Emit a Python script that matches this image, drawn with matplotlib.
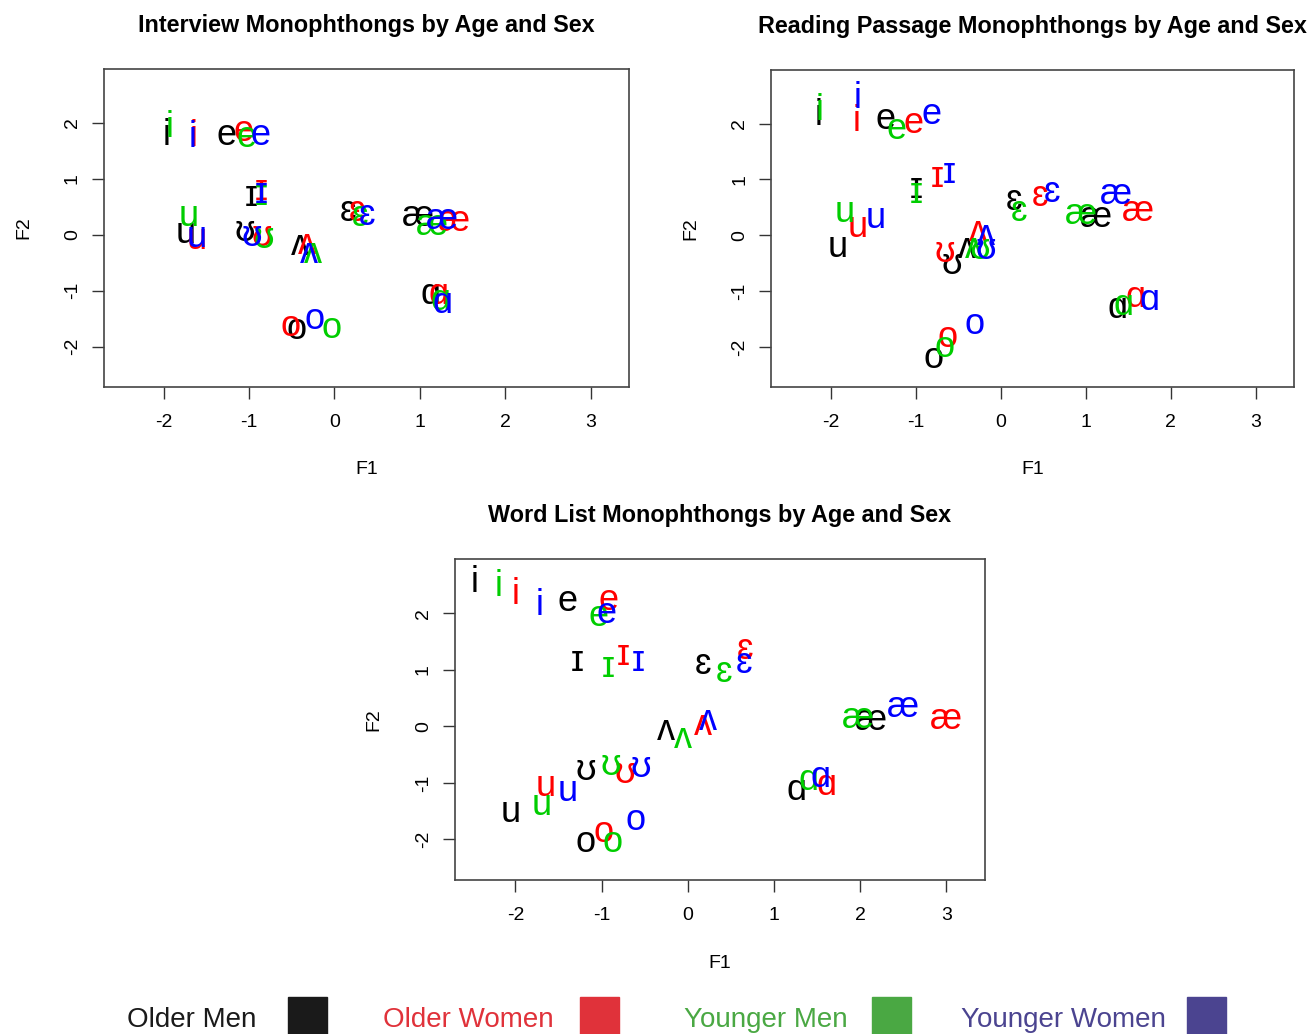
import matplotlib
matplotlib.use('Agg')
import matplotlib.pyplot as plt
from matplotlib.patches import Rectangle

plt.rcParams['font.family'] = ['Liberation Sans', 'DejaVu Sans']
plt.rcParams['axes.unicode_minus'] = False

vowels = ['i', 'ɪ', 'e', 'ɛ', 'æ', 'ɑ', 'ʌ', 'o', 'ʊ', 'u']
groups = ['Older Men', 'Older Women', 'Younger Men', 'Younger Women']
group_colors = ['black', '#FF0000', '#00CD00', '#0000FF']
legend_colors = ['#1a1a1a', '#e0323a', '#4aa843', '#4b4490']

# rows: Older Men, Older Women, Younger Men, Younger Women; columns follow vowels
interview_f1 = [
    [-1.97, -0.97, -1.26, 0.16, 0.98, 1.12, -0.40, -0.44, -1.05, -1.74],
    [-1.65, -0.86, -1.07, 0.26, 1.40, 1.22, -0.32, -0.52, -0.85, -1.61],
    [-1.93, -0.86, -1.03, 0.30, 1.14, 1.24, -0.25, -0.03, -0.83, -1.71],
    [-1.66, -0.86, -0.87, 0.38, 1.26, 1.26, -0.30, -0.23, -0.97, -1.61],
]
interview_f2 = [
    [1.78, 0.68, 1.77, 0.42, 0.33, -1.07, -0.19, -1.70, 0.06, 0.03],
    [1.76, 0.79, 1.85, 0.42, 0.23, -1.07, -0.18, -1.64, -0.03, -0.08],
    [1.92, 0.71, 1.74, 0.32, 0.17, -1.18, -0.33, -1.67, -0.06, 0.33],
    [1.74, 0.74, 1.77, 0.34, 0.27, -1.22, -0.34, -1.52, -0.03, -0.04],
]
reading_f1 = [
    [-2.14, -0.99, -1.36, 0.16, 1.12, 1.38, -0.40, -0.79, -0.58, -1.92],
    [-1.69, -0.75, -1.03, 0.46, 1.61, 1.59, -0.27, -0.63, -0.66, -1.68],
    [-2.13, -0.99, -1.22, 0.22, 0.95, 1.44, -0.32, -0.66, -0.25, -1.84],
    [-1.68, -0.60, -0.81, 0.60, 1.36, 1.75, -0.17, -0.31, -0.17, -1.47],
]
reading_f2 = [
    [2.15, 0.84, 2.07, 0.63, 0.32, -1.32, -0.23, -2.21, -0.53, -0.22],
    [2.03, 1.03, 2.01, 0.69, 0.43, -1.11, 0.07, -1.83, -0.31, 0.14],
    [2.24, 0.75, 1.89, 0.42, 0.37, -1.26, -0.23, -2.01, -0.25, 0.41],
    [2.45, 1.11, 2.16, 0.76, 0.73, -1.17, -0.01, -1.60, -0.26, 0.30],
]
wordlist_f1 = [
    [-2.47, -1.28, -1.39, 0.18, 2.13, 1.26, -0.25, -1.19, -1.18, -2.05],
    [-2.00, -0.75, -0.92, 0.66, 3.00, 1.61, 0.18, -0.98, -0.73, -1.65],
    [-2.20, -0.92, -1.04, 0.42, 1.98, 1.40, -0.06, -0.87, -0.89, -1.70],
    [-1.72, -0.58, -0.94, 0.65, 2.50, 1.54, 0.24, -0.60, -0.54, -1.39],
]
wordlist_f2 = [
    [2.54, 1.14, 2.21, 1.10, 0.11, -1.13, -0.07, -2.06, -0.78, -1.52],
    [2.34, 1.26, 2.23, 1.36, 0.12, -1.04, 0.01, -1.87, -0.84, -1.07],
    [2.48, 1.05, 1.95, 0.96, 0.14, -0.96, -0.22, -2.05, -0.69, -1.40],
    [2.13, 1.14, 1.99, 1.11, 0.34, -0.91, 0.11, -1.66, -0.72, -1.16],
]

fig = plt.figure(figsize=(13.08, 10.34), dpi=100)


def vowel_panel(rect, title, f1, f2):
    ax = fig.add_axes(rect)
    for g in range(len(groups)):
        for v, x, y in zip(vowels, f1[g], f2[g]):
            ax.text(x, y, v, color=group_colors[g], fontsize=26,
                    ha='center', va='center')
    ax.set_xlim(-2.7, 3.45)
    ax.set_ylim(-2.72, 2.96)
    ax.set_xticks([-2, -1, 0, 1, 2, 3])
    ax.set_yticks([-2, -1, 0, 1, 2])
    ax.tick_params(direction='out', length=8.6, width=1, labelsize=14,
                   color='#333333')
    ax.tick_params(axis='x', pad=11)
    ax.tick_params(axis='y', pad=8)
    plt.setp(ax.get_yticklabels(), rotation=90, va='center')
    for s in ax.spines.values():
        s.set_color('#444444')
        s.set_linewidth(1.2)
    ax.set_title(title, fontsize=16.8, fontweight='bold', pad=27)
    ax.set_xlabel('F1', fontsize=14)
    ax.set_ylabel('F2', fontsize=14)
    ax.xaxis.set_label_coords(0.5, -0.26)
    ax.xaxis.label.set_va('center')
    ax.yaxis.set_label_coords(-0.153, 0.5)
    ax.yaxis.label.set_va('center')
    return ax


vowel_panel([0.0795, 0.6257, 0.4014, 0.3075],
            'Interview Monophthongs by Age and Sex', interview_f1, interview_f2)
vowel_panel([0.5895, 0.6257, 0.3998, 0.3066],
            'Reading Passage Monophthongs by Age and Sex', reading_f1, reading_f2)
vowel_panel([0.3479, 0.1489, 0.4052, 0.3104],
            'Word List Monophthongs by Age and Sex', wordlist_f1, wordlist_f2)

# legend strip along the bottom edge
text_x = [191.5, 468.5, 765.5, 1063.5]
box_x = [288, 580, 872, 1187]
for g in range(len(groups)):
    fig.text(text_x[g] / 1308, 7 / 1034, groups[g], color=legend_colors[g],
             fontsize=20, ha='center', va='baseline')
    fig.patches.append(Rectangle((box_x[g] / 1308, 0), 39 / 1308, 37 / 1034,
                                 transform=fig.transFigure,
                                 color=legend_colors[g]))

fig.savefig('out.png', dpi=100)
